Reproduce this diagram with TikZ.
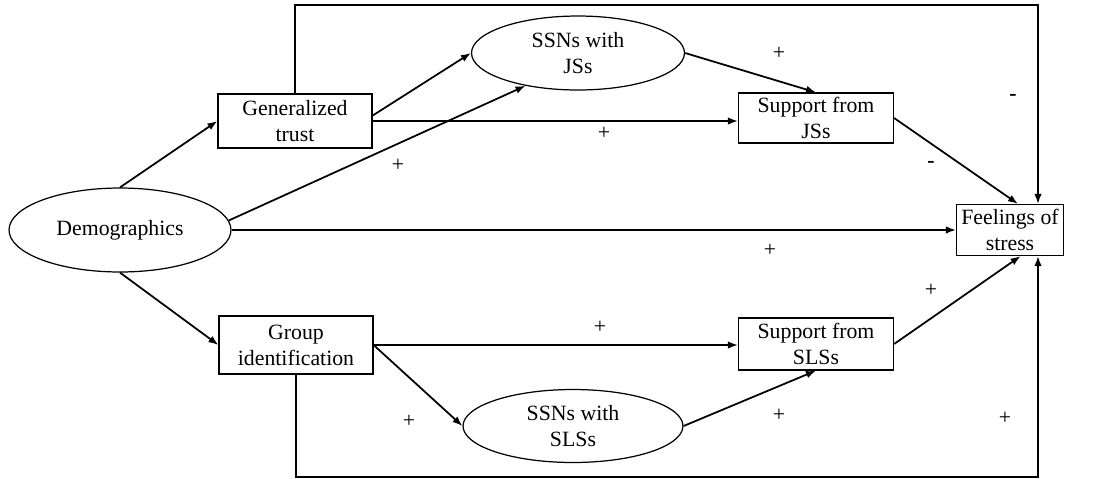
\documentclass[tikz,border=0pt]{standalone}
\usepackage{fontspec}
\setmainfont{Liberation Serif}
\usetikzlibrary{shapes.geometric,arrows.meta}
\tikzset{
  box/.style={draw, line width=0.7pt, align=center, inner sep=0.5pt},
  oval/.style={draw, ellipse, line width=0.7pt, align=center, inner sep=0pt},
  arr/.style={line width=1pt, -{Latex[length=2mm,width=1.5mm]}},
  sign/.style={inner sep=0pt}
}
\begin{document}
\begin{tikzpicture}[x=0.02cm, y=-0.02cm, font=\fontsize{12.4}{14.8}\selectfont]
  \useasboundingbox (0,0) rectangle (1110,478);
  % variaveis
  \node[oval, minimum width=4.44cm, minimum height=1.68cm] (demo) at (120,230) {Demographics};
  \node[box, minimum width=3.08cm, minimum height=1.08cm] (trust) at (295,121) {Generalized\\trust};
  \node[box, minimum width=3.08cm, minimum height=1.16cm] (group) at (296,345) {Group\\identification};
  \node[oval, minimum width=4.26cm, minimum height=1.48cm] (ssnjs) at (578,53) {SSNs with\\JSs};
  \node[oval, minimum width=4.4cm, minimum height=1.46cm] (ssnsls) at (573,426) {SSNs with\\SLSs};
  \node[box, minimum width=3.1cm, minimum height=1cm] (supjs) at (816,118) {Support from\\JSs};
  \node[box, minimum width=3.1cm, minimum height=1.04cm] (supsls) at (816,344) {Support from\\SLSs};
  \node[box, minimum width=2.14cm, minimum height=1.02cm] (stress) at (1010,230) {Feelings of\\stress};
  \coordinate (top) at (0,5);
  \coordinate (bottom) at (0,477);
  % setas a partir de Demographics
  \draw[arr] (demo.north) -- (trust.west);
  \draw[arr] (demo.south) -- (group.west);
  \draw[arr] (demo.5) -- (ssnjs.212);
  \draw[arr] (demo.east) -- (stress.west);
  % caminho superior
  \draw[arr] (trust.4) -- (ssnjs.west);
  \draw[arr] (trust.east) -- (trust.east -| supjs.west);
  \draw[arr] (ssnjs.east) -- (supjs.north);
  \draw[arr] (supjs.east) -- (stress.73);
  \draw[arr] (trust.north) |- (stress.43 |- top) -- (stress.43);
  % caminho inferior
  \draw[arr] (group.east) -- (group.east -| supsls.west);
  \draw[arr] (group.east) -- (ssnsls.west);
  \draw[arr] (ssnsls.east) -- (supsls.south);
  \draw[arr] (supsls.east) -- (stress.-68);
  \draw[arr] (group.south) |- (stress.-43 |- bottom) -- (stress.-43);
  % sinais
  \node[sign] (s1) at (398,165) {+};
  \node[sign] (s2) at (604,133) {+};
  \node[sign] (s3) at (779,53) {+};
  \node[sign] (s4) at (1013,97) {\textbf{-}};
  \node[sign] (s5) at (931,164) {\textbf{-}};
  \node[sign] (s6) at (770,250) {+};
  \node[sign] (s7) at (931,290) {+};
  \node[sign] (s8) at (600,327) {+};
  \node[sign] (s9) at (779,415) {+};
  \node[sign] (s10) at (1005,418) {+};
  \node[sign] (s11) at (409,421) {+};
\end{tikzpicture}
\end{document}
